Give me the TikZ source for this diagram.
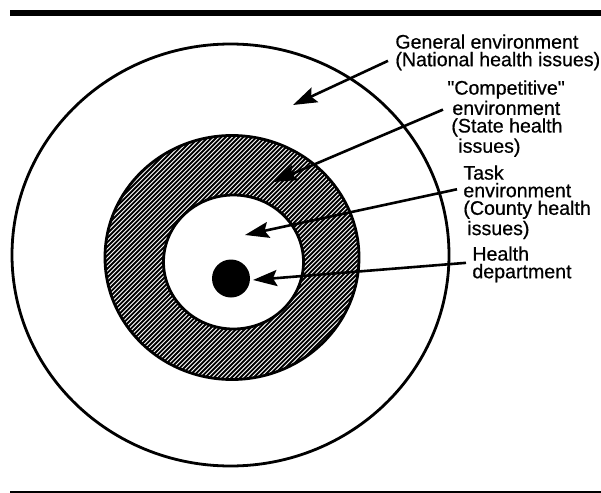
\documentclass[tikz,border=0pt]{standalone}
\usepackage{fontspec}
\newfontfamily\lblfont{Liberation Sans}[FakeBold=0.6]
\usetikzlibrary{arrows.meta, calc}

\begin{document}
\begin{tikzpicture}[x=0.5pt,y=-0.5pt,font=\lblfont\fontsize{9.8pt}{8.8pt}\selectfont,>={Stealth[length=12pt,width=8pt,inset=2pt]},
  lbl/.style={anchor=north west,inner sep=0pt,align=left},
  ptr/.style={->,line width=1.3pt},
  rim/.style={line width=1.4pt}]
  \useasboundingbox (0,0) rectangle (601,493);
  % rules top and bottom
  \fill (10,9.5) rectangle (601,15.5);
  \draw[line width=1pt] (10,491.5) -- (601,491.5);
  % the rings
  \draw[rim] (230.5,255) ellipse [x radius=218.5,y radius=211];
  \begin{scope}
    \clip (232,257.5) ellipse [x radius=127,y radius=122];
    \foreach \i in {-200,-195.6,...,400} \draw[line width=0.95pt] (\i,400)--(\i+300,100);
  \end{scope}
  \draw[rim] (232,257.5) ellipse [x radius=127,y radius=122];
  \filldraw[rim,fill=white] (233.5,262) ellipse [x radius=70,y radius=67];
  \fill (231,278.5) circle [radius=19];
  \coordinate (genpt) at (293,105);
  \coordinate (comppt) at (273,182);
  \coordinate (taskpt) at (245,235);
  \coordinate (hdpt) at (253,280);
  % labels
  \node[lbl] (gen) at (395,34) {General environment\\(National health issues)};
  \node[lbl] (comp) at (447,80) {"Competitive"\\\hspace*{2.5pt}environment\\\hspace*{2pt}(State health\\\hspace*{5.5pt}issues)};
  \node[lbl] (task) at (463,165) {Task\\environment\\(County health\\\hspace*{2pt}issues)};
  \node[lbl] (hd) at (472,246) {Health\\department};
  \draw[ptr] ($(gen.west)+(-7,8.5)$) -- (genpt);
  \draw[ptr] ($(comp.west)+(-4,-9)$) -- (comppt);
  \draw[ptr] ($(task.west)+(-6,-13)$) -- (taskpt);
  \draw[ptr] ($(hd.west)+(-6,-1.5)$) -- (hdpt);
\end{tikzpicture}
\end{document}
